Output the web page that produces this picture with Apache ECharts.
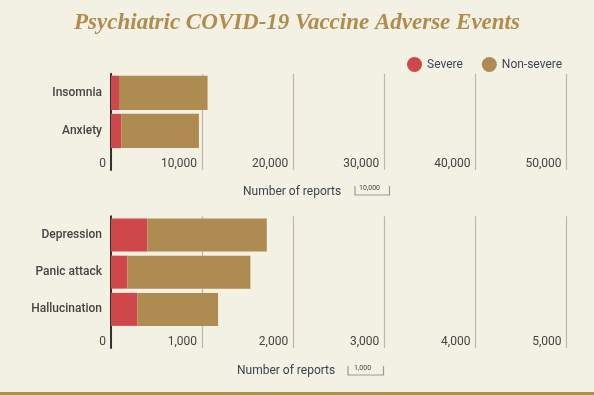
<!DOCTYPE html>
<html><head><meta charset="utf-8">
<script src="https://cdn.jsdelivr.net/npm/echarts@6/dist/echarts.min.js"></script>
<style>html,body{margin:0;padding:0;background:#f3f0e4}#c{width:594px;height:395px}</style>
</head><body><div id="c"></div>
<script>
const titleText = 'Psychiatric COVID-19 Vaccine Adverse Events';
const topCategories = ['Insomnia', 'Anxiety'];
const topSevere = [880, 1130];
const topNonSevere = [9720, 8520];
const bottomCategories = ['Depression', 'Panic attack', 'Hallucination'];
const bottomSevere = [400, 180, 290];
const bottomNonSevere = [1310, 1350, 885];
const topAxisMax = 50000, topInterval = 10000;
const bottomAxisMax = 5000, bottomInterval = 1000;
const axisName = 'Number of reports';
const topScaleLabel = '10,000';
const bottomScaleLabel = '1,000';

const RED = '#d0474b', GOLD = '#ae8b51', GRID = '#bdb8ad', DARK = '#333333';
const FONT = 'Roboto';
const fmt = v => v.toLocaleString('en-US');

function xAx(grid, max, interval, labels) {
  return {
    type: 'value', gridIndex: grid, min: 0, max: max, interval: interval,
    axisLine: {show: false}, axisTick: {show: false},
    splitLine: {show: true, lineStyle: {color: GRID, width: 1.2}},
    axisLabel: labels ? {show: true, inside: true, align: 'right', margin: 0,
      padding: [0, 5, 0, 0], color: '#444', fontFamily: FONT, fontSize: 12,
      formatter: fmt} : {show: false}
  };
}
function yAx(grid, data, labels) {
  return {
    type: 'category', gridIndex: grid, data: data, inverse: true,
    axisLine: {show: true, lineStyle: {color: DARK, width: 2}},
    axisTick: {show: false}, splitLine: {show: false},
    axisLabel: labels ? {show: true, margin: 9, color: '#444', fontFamily: FONT, fontSize: 12, fontWeight: 500} : {show: false}
  };
}

const chart = echarts.init(document.getElementById('c'), null, {renderer: 'canvas'});
const L = 111, W = 455.5;
chart.setOption({
  backgroundColor: '#f3f0e4',
  animation: false,
  title: {text: titleText, left: 'center', top: 7,
    textStyle: {fontFamily: 'Liberation Serif', fontStyle: 'italic', fontWeight: 'bold', fontSize: 23, color: '#b08d4f'}},
  legend: {data: ['Severe', 'Non-severe'], left: 407, top: 57, padding: 0, icon: 'circle',
    itemWidth: 15, itemHeight: 15, itemGap: 19,
    textStyle: {fontFamily: FONT, fontSize: 12, color: '#3d4656'}},
  grid: [
    {left: L, top: 73.8, width: W, height: 76.2},
    {left: L, top: 150, width: W, height: 20},
    {left: L, top: 216.3, width: W, height: 111.7},
    {left: L, top: 328, width: W, height: 20}
  ],
  xAxis: [
    xAx(0, topAxisMax, topInterval, false),
    xAx(1, topAxisMax, topInterval, true),
    xAx(2, bottomAxisMax, bottomInterval, false),
    xAx(3, bottomAxisMax, bottomInterval, true)
  ],
  yAxis: [
    yAx(0, topCategories, true),
    yAx(1, [''], false),
    yAx(2, bottomCategories, true),
    yAx(3, [''], false)
  ],
  series: [
    {name: 'Severe', type: 'bar', stack: 't', xAxisIndex: 0, yAxisIndex: 0, data: topSevere, barWidth: 34.3, itemStyle: {color: RED}},
    {name: 'Non-severe', type: 'bar', stack: 't', xAxisIndex: 0, yAxisIndex: 0, data: topNonSevere, barWidth: 34.3, itemStyle: {color: GOLD}},
    {name: 'Severe', type: 'bar', stack: 'b', xAxisIndex: 2, yAxisIndex: 2, data: bottomSevere, barWidth: 33, itemStyle: {color: RED}},
    {name: 'Non-severe', type: 'bar', stack: 'b', xAxisIndex: 2, yAxisIndex: 2, data: bottomNonSevere, barWidth: 33, itemStyle: {color: GOLD}}
  ],
  graphic: [
    {type: 'text', left: 243, top: 186, style: {text: axisName, fontFamily: FONT, fontSize: 12, fill: '#3a4350'}},
    {type: 'polyline', shape: {points: [[355, 186], [355, 195], [389.5, 195], [389.5, 186]]}, style: {stroke: '#999', lineWidth: 1.2, fill: null}},
    {type: 'text', left: 359, top: 185, style: {text: topScaleLabel, fontFamily: FONT, fontSize: 7, fill: '#444'}},
    {type: 'text', left: 237, top: 365, style: {text: axisName, fontFamily: FONT, fontSize: 12, fill: '#3a4350'}},
    {type: 'polyline', shape: {points: [[348, 366], [348, 375], [383.5, 375], [383.5, 366]]}, style: {stroke: '#999', lineWidth: 1.2, fill: null}},
    {type: 'text', left: 354, top: 365, style: {text: bottomScaleLabel, fontFamily: FONT, fontSize: 7, fill: '#444'}},
    {type: 'rect', shape: {x: 0, y: 392, width: 594, height: 3}, style: {fill: '#b08d4f'}}
  ]
});
</script></body></html>
